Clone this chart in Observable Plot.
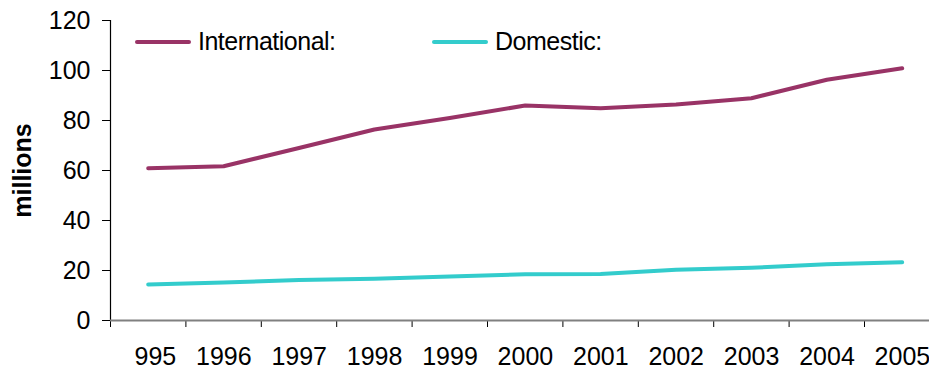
<!DOCTYPE html>
<html>
<head>
<meta charset="utf-8">
<script src="https://cdn.jsdelivr.net/npm/d3@7"></script>
<script src="https://cdn.jsdelivr.net/npm/@observablehq/plot@0.6"></script>
<style>
  body { margin: 0; background: #fff; font-family: "Liberation Sans", Arial, sans-serif; }
  #chart { position: relative; width: 929px; height: 371px; }
  .legend-item { position: absolute; top: 27px; display: flex; align-items: center; font-size: 25px; letter-spacing: -0.5px; color: #000; white-space: nowrap; }
  .legend-item .swatch { width: 56px; height: 4px; border-radius: 2px; margin-right: 7px; }
</style>
</head>
<body>
<div id="chart"></div>
<script>
// Passenger counts (millions) per year
const years = [1995, 1996, 1997, 1998, 1999, 2000, 2001, 2002, 2003, 2004, 2005];
const yearLabels = ["995", "1996", "1997", "1998", "1999", "2000", "2001", "2002", "2003", "2004", "2005"];
const international = [60.9, 61.7, 69.0, 76.4, 81.0, 86.0, 84.9, 86.4, 88.9, 96.3, 100.9];
const domestic = [14.4, 15.2, 16.2, 16.7, 17.6, 18.5, 18.6, 20.3, 21.1, 22.5, 23.3];
const yTicks = [0, 20, 40, 60, 80, 100, 120];
const seriesNames = ["International:", "Domestic:"];
const seriesColors = ["#993366", "#33CCCC"];
const legendLeft = [135, 432];

const rows = [];
years.forEach((yr, i) => {
  rows.push({year: yr, value: international[i], series: seriesNames[0]});
  rows.push({year: yr, value: domestic[i], series: seriesNames[1]});
});

// category boundaries between years, where the x-axis ticks sit
const boundaries = years.map(y => y - 0.5);
const labelOf = new Map(years.map((y, i) => [y, yearLabels[i]]));

const plot = Plot.plot({
  width: 929,
  height: 371,
  marginLeft: 110,
  marginRight: 0,
  marginTop: 20,
  marginBottom: 51,
  style: {fontFamily: "'Liberation Sans', Arial, sans-serif", fontSize: "25px", color: "#000", background: "#fff"},
  x: {type: "linear", domain: [1994.5, 2005.362]},
  y: {domain: [0, 120]},
  color: {domain: seriesNames, range: seriesColors},
  marks: [
    Plot.axisY(yTicks, {tickSize: 8, tickPadding: 12, label: null, fontSize: 25, stroke: "#000"}),
    Plot.axisX(boundaries, {tickSize: 7, tickFormat: () => "", label: null, stroke: "#000"}),
    Plot.axisX(years, {tickSize: 0, tickPadding: 27, tickFormat: d => labelOf.get(d), textAnchor: "end", dx: 28, label: null, fontSize: 25}),
    Plot.ruleX([1994.5], {y1: 0, y2: 120, stroke: "#000", strokeWidth: 1.2}),
    Plot.ruleY([0], {stroke: "#808080", strokeWidth: 2}),
    Plot.line(rows, {x: "year", y: "value", z: "series", stroke: "series", strokeWidth: 4, strokeLinecap: "round", strokeLinejoin: "round"}),
    Plot.text(["millions"], {frameAnchor: "left", textAnchor: "middle", dx: -88, rotate: -90, fontWeight: "bold", fontSize: 25})
  ]
});

const chart = document.getElementById("chart");
chart.appendChild(plot);

seriesNames.forEach((name, i) => {
  const item = document.createElement("div");
  item.className = "legend-item";
  item.style.left = legendLeft[i] + "px";
  const sw = document.createElement("span");
  sw.className = "swatch";
  sw.style.background = seriesColors[i];
  const label = document.createElement("span");
  label.textContent = name;
  item.appendChild(sw);
  item.appendChild(label);
  chart.appendChild(item);
});
</script>
</body>
</html>
